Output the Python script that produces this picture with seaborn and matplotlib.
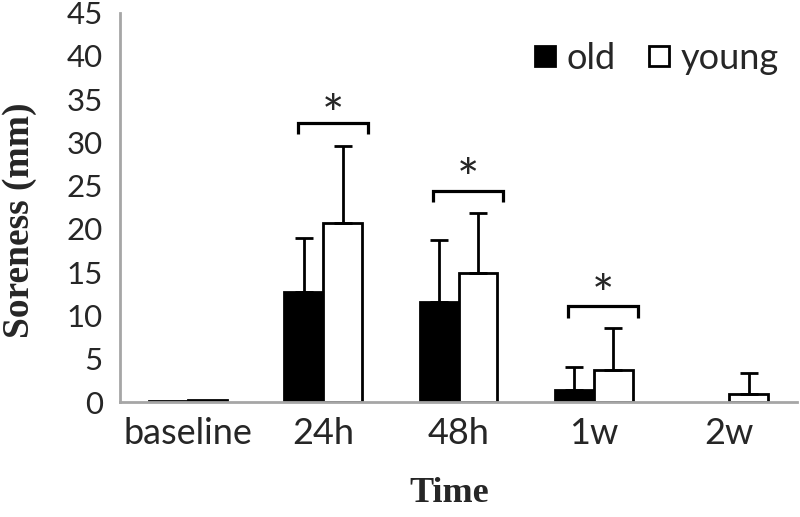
import matplotlib
matplotlib.use("Agg")
import matplotlib.pyplot as plt
import seaborn as sns
import pandas as pd
import numpy as np
from matplotlib.lines import Line2D

# ---- data ----
times = ["baseline", "24h", "48h", "1w", "2w"]
groups = ["old", "young"]
old_mean = [0.1, 12.7, 11.6, 1.4, 0.0]
old_sd = [0.0, 6.3, 7.1, 2.7, 0.0]
young_mean = [0.2, 20.7, 14.9, 3.7, 0.9]
young_sd = [0.0, 8.9, 6.9, 4.9, 2.5]
y_ticks = [0, 5, 10, 15, 20, 25, 30, 35, 40, 45]
sig_times = ["24h", "48h", "1w"]
sig_bracket_top = [32.2, 24.4, 11.1]
sig_bracket_leg = [31.0, 23.1, 9.7]
sig_star_y = [34.7, 27.4, 13.9]

df = pd.DataFrame({
    "Time": times * 2,
    "Group": ["old"] * len(times) + ["young"] * len(times),
    "Soreness": old_mean + young_mean,
})

sns.set_style("white")
tick_font = "Lato"
title_font = "Liberation Serif"

fig = plt.figure(figsize=(8, 5.17), dpi=100)
ax = fig.add_axes([120 / 800, 115 / 517, 677 / 800, (402 - 12.5) / 517])

sns.barplot(data=df, x="Time", y="Soreness", hue="Group", order=times,
            hue_order=groups, palette={"old": "black", "young": "white"},
            edgecolor="black", linewidth=2.0, width=0.576, errorbar=None,
            legend=False, ax=ax)

# hide edges on zero-height bars
for p in ax.patches:
    if p.get_height() == 0:
        p.set_linewidth(0)

# error bars (upper only)
bars = [p for p in ax.patches if p.get_width() > 0]
sds = old_sd + young_sd
means = old_mean + young_mean
xs = [p.get_x() + p.get_width() / 2 for p in bars[:len(sds)]]
for x, m, s in zip(xs, means, sds):
    if s > 0:
        ax.errorbar([x], [m], yerr=[[0], [s]], fmt="none", ecolor="black",
                    elinewidth=2.0, capsize=6.5, capthick=2.0, zorder=1)

# significance brackets
star_offset = 2.0
for t, top, leg, sy in zip(sig_times, sig_bracket_top, sig_bracket_leg, sig_star_y):
    i = times.index(t)
    x0, x1 = i - 0.188, i + 0.328
    ax.plot([x0, x0, x1, x1], [leg, top, top, leg], color="black", lw=2.3,
            solid_joinstyle="miter", solid_capstyle="butt")
    ax.text((x0 + x1) / 2, sy - star_offset, "*", ha="center", va="center",
            fontsize=38, family=tick_font)

ax.set_xlim(-0.5, 4.5)
ax.set_ylim(0, 45)
ax.set_yticks(y_ticks)

spine_c = "#a6a6a6"
for s in ["top", "right"]:
    ax.spines[s].set_visible(False)
for s in ["left", "bottom"]:
    ax.spines[s].set_color(spine_c)
    ax.spines[s].set_linewidth(2)

ax.set_xticks(range(len(times)))
ax.set_xticklabels(times, family=tick_font, fontsize=26)
ax.set_xticks(np.arange(-0.5, len(times), 1.0), minor=True)
ax.tick_params(axis="x", which="major", length=0, pad=11)
ax.tick_params(axis="x", which="minor", length=10, width=2, color=spine_c, direction="out")
ax.tick_params(axis="y", length=6.5, width=2, color=spine_c, direction="out", pad=6)
for lab in ax.get_yticklabels():
    lab.set_family(tick_font)
    lab.set_fontsize(22.5)

ax.set_xlabel("Time", family=title_font, fontweight="bold", fontsize=26)
ax.xaxis.set_label_coords((449 - 120) / 677, (402 - 493) / 389.5)
ax.xaxis.label.set_va("center")
ax.set_ylabel("Soreness (mm)", family=title_font, fontweight="bold", fontsize=27)
ax.yaxis.set_label_coords((20 - 120) / 677, (402 - 220) / 389.5)
ax.yaxis.label.set_va("center")

handles = [Line2D([], [], marker="s", linestyle="none", markersize=14,
                  markerfacecolor=c, markeredgecolor="black", markeredgewidth=2)
           for c in ["black", "white"]]
leg = fig.legend(handles, groups, loc="center left",
                 bbox_to_anchor=(534 / 800, 1 - 58 / 517), ncol=2, frameon=False,
                 borderpad=0, borderaxespad=0,
                 handletextpad=0.3, columnspacing=0.9, handlelength=0.6,
                 prop={"family": tick_font, "size": 26})

fig.savefig("out.png", dpi=100)
